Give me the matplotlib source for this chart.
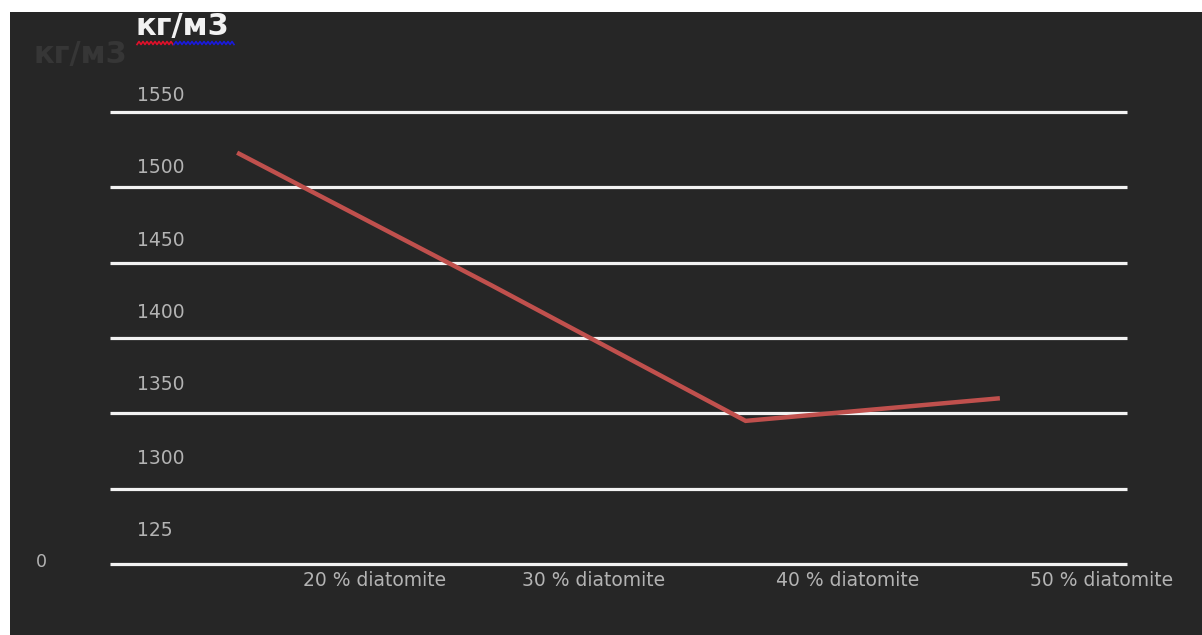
import numpy as np
import matplotlib
matplotlib.use("Agg")
import matplotlib.pyplot as plt
import matplotlib.transforms as mtransforms
from matplotlib.patches import Rectangle
from matplotlib.lines import Line2D

# ---- data ----
categories = ["20 % diatomite", "30 % diatomite", "40 % diatomite", "50 % diatomite"]
density = [1523, 1435, 1345, 1360]
grid_values = [1250, 1300, 1350, 1400, 1450, 1500, 1550]
ytick_labels = ["1550", "1500", "1450", "1400", "1350", "1300", "125"]
ytick_label_pos = [1561, 1513, 1465, 1417, 1369, 1320, 1272]
cat_label_pos = [0.54, 1.40, 2.40, 3.40]
unit_label = "кг/м3"

W, H = 1202, 635
fig = plt.figure(figsize=(W / 100, H / 100), dpi=100, facecolor="white")

def fx(px):
    return px / W

def fy(py):
    return 1 - py / H

BG = "#262626"
fig.patches.append(Rectangle((fx(10), 0), 1 - fx(10), fy(12), transform=fig.transFigure,
                             facecolor=BG, edgecolor="none", zorder=-5))

ax = fig.add_axes([fx(110), fy(564), fx(1127) - fx(110), fy(112) - fy(564)])
ax.set_zorder(2)
ax.patch.set_alpha(0)
for s in ax.spines.values():
    s.set_visible(False)
ax.set_xlim(-0.5, len(categories) - 0.5)
ax.set_ylim(grid_values[0], grid_values[-1])
ax.set_xticks([])
ax.set_yticks([])

# gridlines
ax.hlines(grid_values, 0, 1, transform=ax.get_yaxis_transform(), colors="#f2f2f2",
          linewidth=2.3, clip_on=False, zorder=1)

# data line
x = np.arange(len(categories))
ax.plot(x, density, color="#c0504d", linewidth=3.2, solid_capstyle="butt",
        solid_joinstyle="miter", zorder=3, clip_on=False)

TXT = "#b3b3b3"
ytrans = mtransforms.blended_transform_factory(fig.transFigure, ax.transData)
for lab, yv in zip(ytick_labels, ytick_label_pos):
    ax.text(fx(137), yv, lab, transform=ytrans,
            ha="left", va="center", color=TXT, fontsize=13.5, clip_on=False)

xtrans = mtransforms.blended_transform_factory(ax.transData, fig.transFigure)
for lab, xv in zip(categories, cat_label_pos):
    ax.text(xv, fy(581), lab, transform=xtrans,
            ha="center", va="center", color=TXT, fontsize=13.5, clip_on=False)

fig.text(fx(41), fy(562), "0", ha="center", va="center", color=TXT, fontsize=12.5, zorder=3)

# faint unit label and bold unit label
fig.text(fx(34), fy(55), unit_label, ha="left", va="center", color="#363636",
         fontsize=22, fontweight="bold", zorder=3)
fig.text(fx(136), fy(27), unit_label, ha="left", va="center", color="#f2f2f2",
         fontsize=22, fontweight="bold", zorder=3)

# spell-check wavy underline
def wavy(x0, x1, y, color):
    xs = np.arange(x0, x1 + 0.1, 2.0)
    ys = y + np.where((np.arange(len(xs)) % 2) == 0, 1.5, -1.5)
    fig.lines.append(Line2D([fx(v) for v in xs], [fy(v) for v in ys],
                            transform=fig.transFigure, color=color, linewidth=1.2, zorder=3))

wavy(137, 174, 43, "#e0102a")
wavy(174, 235, 43, "#1a1adc")

fig.savefig("out.png", dpi=100, facecolor=fig.get_facecolor())
